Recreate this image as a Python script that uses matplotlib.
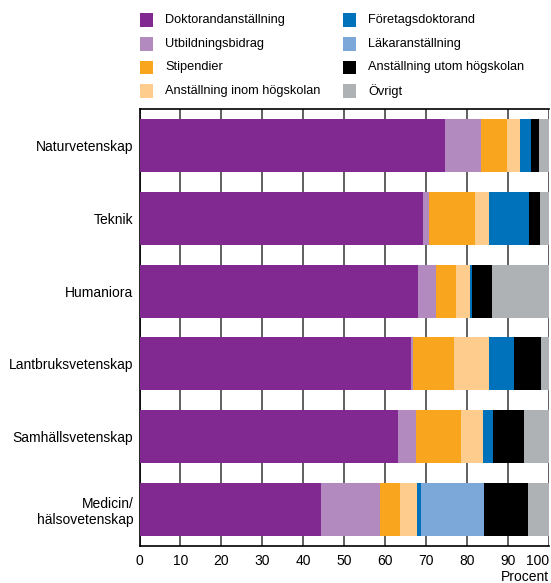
import matplotlib.pyplot as plt
import matplotlib.patches as mpatches
import numpy as np

plt.rcParams['font.family'] = ['Liberation Sans', 'DejaVu Sans']

# ==========================================
# Data (percent of doctoral students per funding type)
# ==========================================
areas = ['Naturvetenskap', 'Teknik', 'Humaniora', 'Lantbruksvetenskap',
         'Samhällsvetenskap', 'Medicin/\nhälsovetenskap']

categories = ['Doktorandanställning', 'Utbildningsbidrag', 'Stipendier',
              'Anställning inom högskolan', 'Företagsdoktorand',
              'Läkaranställning', 'Anställning utom högskolan', 'Övrigt']

doktorand = [74.6, 69.2, 68.0, 66.3, 63.1, 44.3]
utbildningsbidrag = [8.7, 1.5, 4.4, 0.5, 4.4, 14.4]
stipendier = [6.4, 11.2, 4.8, 10.0, 11.0, 4.9]
anst_inom = [3.2, 3.4, 3.5, 8.5, 5.3, 4.1]
foretag = [2.6, 9.7, 0.6, 6.1, 2.5, 1.0]
lakare = [0.0, 0.0, 0.0, 0.0, 0.0, 15.4]
anst_utom = [2.0, 2.9, 4.7, 6.6, 7.5, 10.7]
ovrigt = [2.5, 2.1, 14.0, 2.0, 6.2, 5.2]

series = [doktorand, utbildningsbidrag, stipendier, anst_inom,
          foretag, lakare, anst_utom, ovrigt]
colors = ['#812990', '#B28ABF', '#F9A61E', '#FECD8E',
          '#0072BB', '#7BA7D9', '#000000', '#AEB2B5']

# ==========================================
# Plot
# ==========================================
fig = plt.figure(figsize=(5.51, 5.83), dpi=100)
ax = fig.add_axes([0.2532, 0.0635, 0.7432, 0.7495])

y = np.arange(len(areas))
left = np.zeros(len(areas))
for vals, col in zip(series, colors):
    ax.barh(y, vals, left=left, height=0.73, color=col, zorder=3)
    left += np.array(vals)

ax.set_xlim(0, 100)
ax.set_ylim(len(areas) - 0.5, -0.5)
ax.set_xticks(np.arange(0, 101, 10))
ax.set_yticks(y)
ax.set_yticklabels(areas, fontsize=10)
ax.tick_params(axis='x', labelsize=10, length=0, pad=6)
ax.tick_params(axis='y', length=0, pad=4.5)
ax.grid(axis='x', color='#444444', lw=1.2, zorder=0)
for s in ax.spines.values():
    s.set_color('black')
    s.set_linewidth(1.2)
ax.spines['right'].set_visible(False)

# keep the "100" label inside the figure
last = ax.get_xticklabels()[-1]
last.set_horizontalalignment('right')
last.set_x(100.2)

fig.text(0.997, 0.004, 'Procent', ha='right', va='baseline', fontsize=10)

# Legend, two columns drawn by hand
sq = 13
col_x = [140, 343]
row_y = [20, 44, 67, 91]
for i, (name, col) in enumerate(zip(categories, colors)):
    cx = col_x[i // 4]
    cy = row_y[i % 4]
    fig.patches.append(mpatches.Rectangle(
        (cx / 551, 1 - (cy + sq / 2) / 583), sq / 551, sq / 583,
        transform=fig.transFigure, facecolor=col, edgecolor='none'))
    fig.text((cx + 25) / 551, 1 - cy / 583, name, ha='left', va='center',
             fontsize=9.2)

fig.savefig('out.png', dpi=100)
